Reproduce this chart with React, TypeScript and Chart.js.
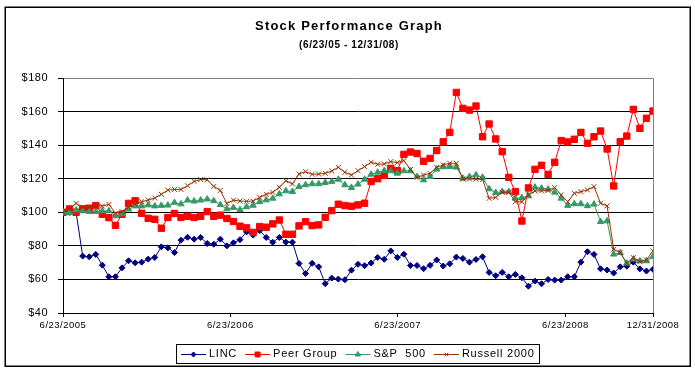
import React, { useEffect, useRef } from "react";
import { Chart, registerables } from "chart.js";
import { drawPoint } from "chart.js/helpers";

Chart.register(...registerables);

const TITLE = "Stock Performance Graph";
const SUBTITLE = "(6/23/05 - 12/31/08)";
const TOTAL_DAYS = 1287; // 6/23/2005 -> 12/31/2008
const tickDays = [0, 365, 730, 1096, 1287];
const tickLabels = ["6/23/2005", "6/23/2006", "6/23/2007", "6/23/2008", "12/31/2008"];
const seriesNames = ["LINC", "Peer Group", "S&P  500", "Russell 2000"];

const linc = [
  100, 100, 100, 73.9, 73.5, 74.9, 68.5, 61.6, 61.6, 66.9,
  71.1, 69.9, 70.3, 72.1, 73.1, 79.4, 78.8, 76.0, 83.4, 85.1,
  84.0, 85.0, 81.4, 81.0, 84.0, 80.0, 81.8, 83.7, 88.3, 86.4,
  89.1, 85.0, 82.1, 85.0, 82.2, 82.2, 69.5, 63.5, 69.6, 67.5,
  57.5, 60.8, 60.2, 59.8, 65.5, 69.0, 68.2, 69.8, 73.1, 72.0,
  77.0, 73.1, 75.0, 68.3, 68.3, 66.4, 68.4, 71.6, 68.0, 69.3,
  73.3, 72.5, 70.3, 71.9, 73.5, 64.2, 62.2, 64.2, 61.6, 63.0,
  61.0, 56.0, 59.0, 57.4, 60.0, 59.6, 59.6, 61.6, 61.6, 70.3,
  76.5, 74.9, 66.3, 65.6, 63.8, 67.5, 67.9, 70.3, 66.3, 65.0,
  66.0,
];

const peer = [
  100, 102, 100, 102, 102.4, 104, 98.8, 96.8, 92.2, 98.8,
  105.3, 106.9, 99.4, 96.4, 95.8, 90.5, 96.9, 99.3, 96.9, 97.6,
  96.9, 97.6, 100.4, 97.6, 98.3, 96.3, 94.5, 91.7, 90.7, 88.0,
  91.5, 91.1, 93.1, 95.4, 86.9, 86.9, 91.9, 94.4, 92.1, 92.5,
  97.0, 101.0, 104.8, 104.0, 103.6, 104.4, 105.4, 118.3, 120.0, 122.0,
  126.2, 124.8, 134.5, 135.9, 135.0, 130.4, 132.1, 136.8, 142.0, 147.6,
  171.4, 161.9, 160.9, 163.3, 145.0, 152.6, 143.7, 136.1, 120.8, 112.3,
  94.8, 114.5, 125.6, 128.0, 122.6, 129.8, 142.7, 141.9, 143.5, 147.6,
  141.1, 145.0, 148.4, 137.7, 115.7, 142.1, 145.4, 161.3, 150.0, 156.0,
  160.3,
];

const sp500 = [
  100, 99.6, 101.3, 100.8, 100.4, 100.4, 100.8, 100.8, 97.8, 99.0,
  101.8, 103.7, 103.7, 104.3, 103.7, 104.0, 104.2, 105.8, 104.9, 107.2,
  106.6, 107.2, 107.8, 106.8, 104.5, 102.0, 102.8, 101.5, 103.2, 104.1,
  106.3, 107.3, 108.3, 110.9, 112.7, 112.3, 115.3, 116.3, 116.9, 116.9,
  117.7, 118.3, 119.6, 116.3, 114.7, 116.7, 119.6, 122.6, 123.8, 124.8,
  124.6, 123.2, 124.6, 124.6, 121.2, 119.2, 121.2, 125.6, 127.0, 127.2,
  126.8, 120.2, 121.2, 122.2, 120.8, 113.9, 111.7, 112.3, 112.3, 108.3,
  108.7, 109.7, 114.9, 114.3, 113.7, 111.9, 108.3, 104.0, 105.0, 105.0,
  103.8, 104.8, 94.4, 94.8, 75.0, 75.9, 69.6, 72.0, 71.0, 71.0,
  73.6,
];

const russell = [
  100, 102, 105.3, 103, 103, 104.3, 103.7, 104.7, 99.4, 100.4,
  103, 104.9, 106.3, 107.3, 108.5, 110.7, 113.2, 113.6, 113.6, 115.8,
  118.4, 119.5, 119.3, 115.4, 113, 105.2, 107.2, 106.7, 106.5, 106.7,
  108.9, 110.7, 111.9, 114.9, 118.8, 116.9, 122.8, 124.2, 122.6, 122.8,
  123.2, 124.6, 126.8, 123.8, 122.2, 124.8, 127.2, 129.8, 128.6, 128.8,
  130.2, 129.6, 130.8, 125.5, 120.8, 122.2, 123.2, 126.8, 128.2, 129.2,
  129.2, 119.8, 119.8, 119.8, 119.6, 108.3, 108.9, 111.9, 111.9, 106.3,
  106.3, 110.3, 112.7, 112.7, 113, 114.7, 110.3, 106.3, 111.3, 112.3,
  113.3, 115.3, 105.4, 103.8, 78, 76, 69.6, 73, 70.6, 71.6,
  77,
];

const FONT = '"Liberation Sans", Arial, sans-serif';

const toPoints = (vals: number[]) =>
  vals.map((v, i) => ({ x: (i * TOTAL_DAYS) / (vals.length - 1), y: v }));

const decorPlugin = {
  id: "decor",
  beforeDraw(chart: any) {
    const ctx = chart.ctx;
    ctx.save();
    ctx.fillStyle = "#ffffff";
    ctx.fillRect(0, 0, chart.width, chart.height);
    ctx.restore();
    ctx.letterSpacing = "0.5px";
  },
  afterDraw(chart: any) {
    const { ctx, chartArea } = chart;
    ctx.save();
    // right plot border (grey)
    ctx.strokeStyle = "#808080";
    ctx.lineWidth = 1;
    ctx.beginPath();
    const rx = Math.round(chartArea.right) + 0.5;
    ctx.moveTo(rx, Math.round(chartArea.top) + 0.5);
    ctx.lineTo(rx, Math.round(chartArea.bottom));
    ctx.stroke();

    // outer frame
    ctx.strokeStyle = "#000000";
    ctx.lineWidth = 1.5;
    ctx.strokeRect(5.25, 7.25, 685, 359);

    // title
    ctx.fillStyle = "#000000";
    ctx.textAlign = "center";
    ctx.textBaseline = "middle";
    ctx.font = `bold 13px ${FONT}`;
    ctx.letterSpacing = "1.2px";
    ctx.fillText(TITLE, 349, 26);
    ctx.font = `bold 10px ${FONT}`;
    ctx.letterSpacing = "0.6px";
    ctx.fillText(SUBTITLE, 349, 45);

    // legend
    ctx.font = `11px ${FONT}`;
    ctx.letterSpacing = "0.75px";
    ctx.textAlign = "left";
    const ds = chart.data.datasets;
    const lineLen = 25;
    const gapText = 3;
    const gapItem = 8;
    const widths = ds.map((d: any) => ctx.measureText(d.label).width);
    let total = 5 + 5;
    widths.forEach((w: number, i: number) => {
      total += lineLen + gapText + w + (i < ds.length - 1 ? gapItem : 0);
    });
    const cx = (chartArea.left + chartArea.right) / 2;
    const boxL = Math.round(cx - total / 2);
    const boxT = 344;
    const boxH = 19;
    ctx.strokeStyle = "#000000";
    ctx.lineWidth = 1;
    ctx.strokeRect(boxL + 0.5, boxT + 0.5, Math.round(total), boxH);
    let x = boxL + 5;
    const y = boxT + boxH / 2 + 0.5;
    ds.forEach((d: any, i: number) => {
      ctx.strokeStyle = d.borderColor;
      ctx.lineWidth = 1;
      ctx.beginPath();
      ctx.moveTo(x, Math.round(y) + 0.5);
      ctx.lineTo(x + lineLen, Math.round(y) + 0.5);
      ctx.stroke();
      ctx.fillStyle = d.pointBackgroundColor;
      ctx.strokeStyle = d.pointBorderColor;
      drawPoint(
        ctx,
        { pointStyle: d.pointStyle, radius: d.legendRadius, borderWidth: 1, rotation: 0 },
        x + lineLen / 2,
        Math.round(y) + 0.5
      );
      ctx.fillStyle = "#000000";
      ctx.textBaseline = "middle";
      ctx.fillText(d.label, x + lineLen + gapText, y);
      x += lineLen + gapText + widths[i] + gapItem;
    });
    ctx.restore();
  },
};

export default function App() {
  const ref = useRef<HTMLCanvasElement | null>(null);

  useEffect(() => {
    if (!ref.current) return;
    const mk = (
      label: string,
      vals: number[],
      color: string,
      style: string,
      radius: number,
      legendRadius: number,
      order: number
    ) => ({
      label,
      data: toPoints(vals),
      borderColor: color,
      backgroundColor: color,
      pointBackgroundColor: color,
      pointBorderColor: color,
      pointStyle: style,
      pointRadius: radius,
      pointBorderWidth: 1,
      borderWidth: 1,
      tension: 0,
      fill: false,
      order,
      legendRadius,
    });

    const chart = new Chart(ref.current, {
      type: "line",
      data: {
        datasets: [
          mk(seriesNames[0], linc, "#000080", "rectRot", 3, 2.5, 3),
          mk(seriesNames[1], peer, "#FF0000", "rect", 4.5, 3.5, 2),
          mk(seriesNames[2], sp500, "#339966", "triangle", 3.6, 3, 1),
          mk(seriesNames[3], russell, "#993300", "crossRot", 3.5, 2.5, 0),
        ] as any,
      },
      options: {
        animation: false,
        responsive: false,
        devicePixelRatio: 1,
        layout: { padding: { left: 0, right: 42, top: 78, bottom: 32 } },
        plugins: {
          legend: { display: false },
          tooltip: { enabled: false },
          title: { display: false },
        },
        scales: {
          x: {
            type: "linear",
            min: 0,
            max: TOTAL_DAYS,
            afterBuildTicks: (scale: any) => {
              scale.ticks = tickDays.map((v) => ({ value: v }));
            },
            afterFit: (scale: any) => {
              scale.height = 30;
            },
            ticks: {
              autoSkip: false,
              maxRotation: 0,
              minRotation: 0,
              padding: 3,
              color: "#000000",
              font: { family: FONT, size: 9.5 },
              callback: (_v: any, i: number) => tickLabels[i],
            },
            grid: {
              drawOnChartArea: false,
              drawTicks: true,
              tickLength: 4,
              color: "#000000",
              tickColor: "#000000",
            },
            border: { color: "#000000", width: 1 },
          },
          y: {
            min: 40,
            max: 180,
            afterFit: (scale: any) => {
              scale.width = 63;
            },
            ticks: {
              stepSize: 20,
              padding: 10,
              color: "#000000",
              font: { family: FONT, size: 11 },
              callback: (v: any) => "$" + v,
            },
            grid: {
              drawTicks: true,
              tickLength: 5,
              color: (c: any) => (c.tick && c.tick.value === 180 ? "#808080" : "#000000"),
              tickColor: "#000000",
            },
            border: { color: "#000000", width: 1 },
          },
        },
      } as any,
      plugins: [decorPlugin],
    });
    return () => chart.destroy();
  }, []);

  return (
    <div style={{ position: "absolute", left: 0, top: 0, width: 695, height: 375, background: "#fff" }}>
      <canvas ref={ref} width={695} height={375} style={{ display: "block", width: 695, height: 375 }} />
    </div>
  );
}
